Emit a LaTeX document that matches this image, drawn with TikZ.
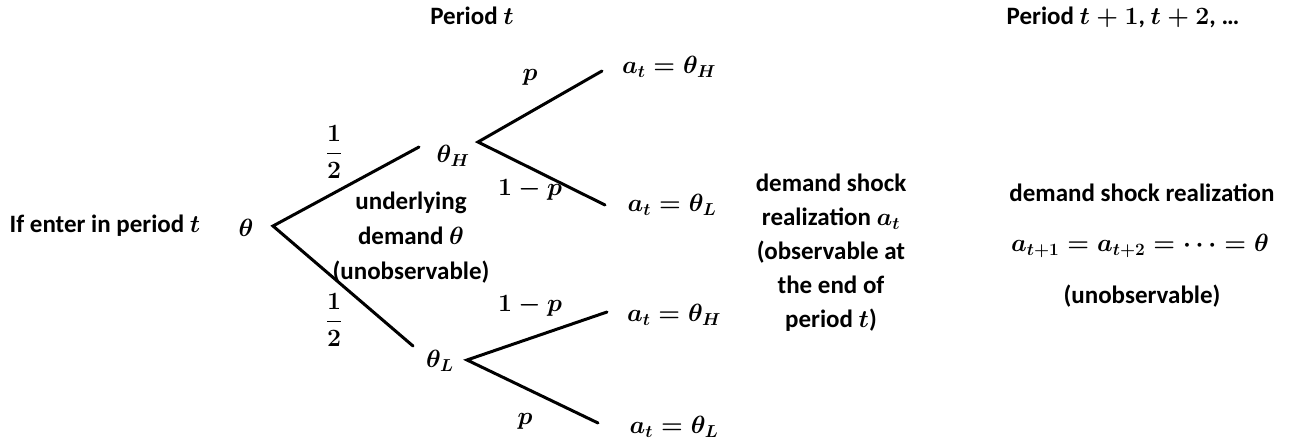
\documentclass[tikz,border=0pt]{standalone}
\usepackage{amsmath,bm}
\usepackage{fontspec}
\setmainfont{Carlito}
\begin{document}
\begin{tikzpicture}[x=1pt,y=-1pt,
  lbl/.style={font=\fontsize{25}{34}\selectfont\bfseries\boldmath, inner sep=0pt, align=center},
  edge/.style={line width=3pt, line cap=round}]
\useasboundingbox (0,0) rectangle (1295,443);
% headers
\node[lbl] (h1) at (472,16) {Period $t$};
\node[lbl] (h2) at (1123,17) {Period $t+1$, $t+2$, \dots};
% left labels
\node[lbl] (enter) at (105,226) {If enter in period $t$};
\node[lbl] (root) at (246,228) {$\theta$};
\node[lbl] (thH) at (453,156) {$\theta_H$};
\node[lbl] (thL) at (440,361) {$\theta_L$};
\node[lbl] (h12) at (334,152) {$\dfrac{1}{2}$};
\node[lbl] (l12) at (334,320) {$\dfrac{1}{2}$};
\node[lbl, font=\fontsize{25}{35}\selectfont\bfseries\boldmath] (under) at (411,238) {underlying\\demand $\theta$\\(unobservable)};
% vertices
\coordinate (v0) at (273,226);
\coordinate (e0) at (419,147);
\coordinate (e1) at (413,346);
\coordinate (vH) at (478,142);
\coordinate (vL) at (467,360);
\coordinate (eHH) at (602,71);
\coordinate (eHL) at (605,205);
\coordinate (eLH) at (607,312);
\coordinate (eLL) at (598,423);
\draw[edge] (e0) -- (v0) -- (e1);
\draw[edge] (eHH) -- (vH) -- (eHL);
\draw[edge] (eLH) -- (vL) -- (eLL);
% branch probabilities
\node[lbl] (pHH) at (530,77) {$p$};
\node[lbl] (pHL) at (530,190) {$1-p$};
\node[lbl] (pLH) at (530,306) {$1-p$};
\node[lbl] (pLL) at (525,421) {$p$};
% outcomes
\node[lbl] (oHH) at (669,67) {$a_t=\theta_H$};
\node[lbl] (oHL) at (672,205) {$a_t=\theta_L$};
\node[lbl] (oLH) at (674,315) {$a_t=\theta_H$};
\node[lbl] (oLL) at (674,427) {$a_t=\theta_L$};
% middle description
\node[lbl] (mid) at (831,253) {demand shock\\realization $a_t$\\(observable at\\the end of\\period $t$)};
% right description
\node[lbl] (r1) at (1142,193) {demand shock realization};
\node[lbl] (r2) at (1140,246) {$a_{t+1}=a_{t+2}=\cdots=\theta$};
\node[lbl] (r3) at (1142,296) {(unobservable)};
\end{tikzpicture}
\end{document}
